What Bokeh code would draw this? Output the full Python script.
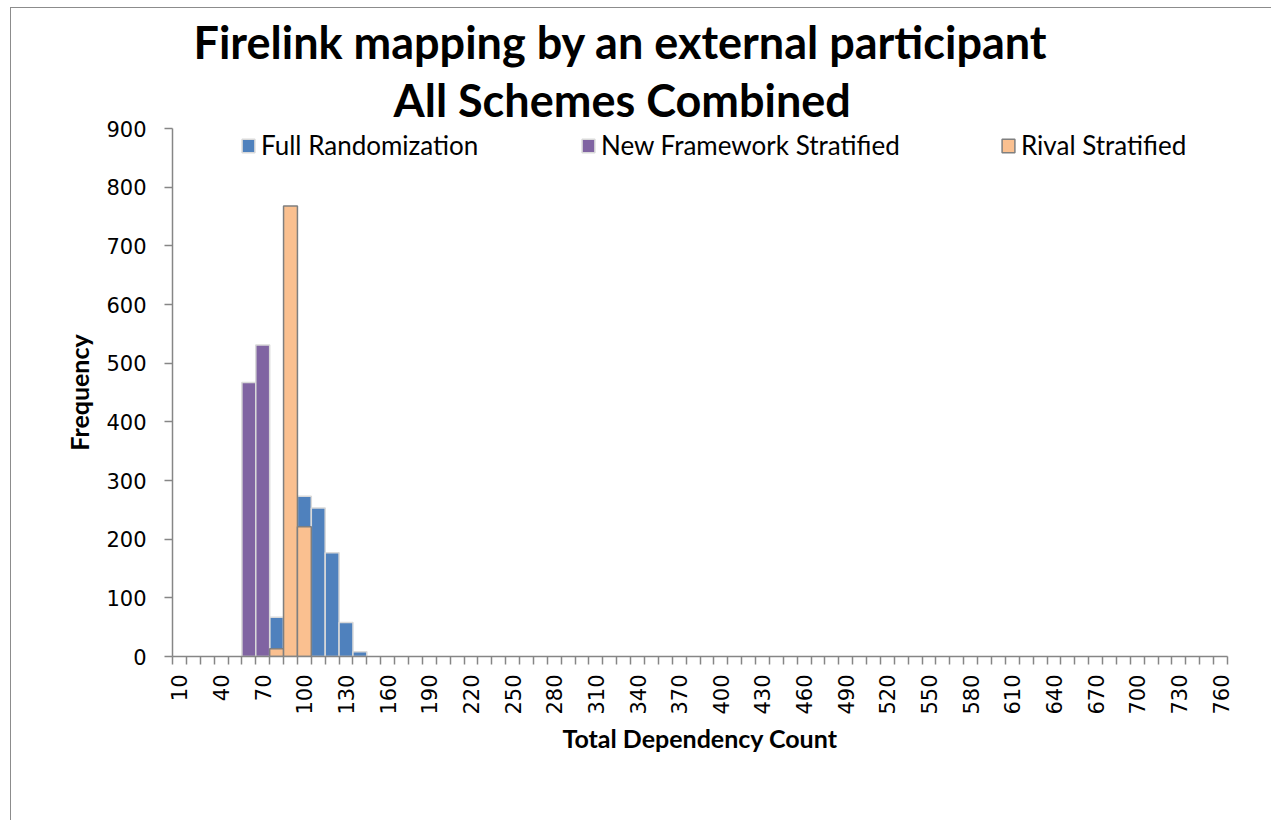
import math
from bokeh.plotting import figure
from bokeh.models import Range1d, FixedTicker, Title, Legend, LegendItem
from bokeh.embed import file_html
from bokeh.resources import INLINE

# ---- data ----
bins = list(range(10, 770, 10))            # histogram bins (Total Dependency Count)
label_bins = bins[::3]                      # bins that carry a label
y_ticks = [0, 100, 200, 300, 400, 500, 600, 700, 800, 900]

full_bins = [80, 90, 100, 110, 120, 130, 140]
full_freq = [67, 164, 273, 253, 177, 58, 8]

newfw_bins = [60, 70]
newfw_freq = [467, 531]

rival_bins = [80, 90, 100]
rival_freq = [13, 768, 221]

series_names = ["Full Randomization", "New Framework Stratified", "Rival Stratified"]

BLUE = "#4F81BD"
PURPLE = "#8064A2"
PEACH = "#FAC090"
AXIS = "#868686"

bin_w = bins[1] - bins[0]

p = figure(
    frame_width=1055, frame_height=528,
    x_range=Range1d(bins[0] - bin_w / 2, bins[-1] + bin_w / 2),
    y_range=Range1d(y_ticks[0], y_ticks[-1]),
    output_backend="svg", toolbar_location=None,
    min_border_left=161, min_border_top=120, min_border_right=44, min_border_bottom=164,
    margin=(7, 0, 0, 10),
    styles={"border-left": "1px solid #8c8c8c", "border-top": "1px solid #8c8c8c"},
    title=None,
)
p.background_fill_color = "white"
p.border_fill_color = "white"
p.outline_line_color = None
p.xgrid.visible = False
p.ygrid.visible = False

r_full = p.vbar(x=full_bins, top=full_freq, width=bin_w, fill_color=BLUE,
                line_color="#d9d9d9", line_width=1.5)
r_new = p.vbar(x=newfw_bins, top=newfw_freq, width=bin_w, fill_color=PURPLE,
               line_color="#d9d9d9", line_width=1.5)
r_rival = p.vbar(x=rival_bins, top=rival_freq, width=bin_w, fill_color=PEACH,
                 line_color="#7f7f7f", line_width=1.5)

# ---- axes ----
xa = p.xaxis[0]
xa.ticker = FixedTicker(ticks=label_bins,
                        minor_ticks=[b - bin_w / 2 for b in bins] + [bins[-1] + bin_w / 2])
xa.major_label_orientation = math.pi / 2
xa.major_tick_out = 0
xa.major_tick_in = 0
xa.minor_tick_out = 8
xa.minor_tick_in = 0
xa.minor_tick_line_color = AXIS
xa.minor_tick_line_width = 1.5
xa.axis_line_color = AXIS
xa.axis_line_width = 1.5
xa.major_label_text_font = "DejaVu Sans"
xa.major_label_text_font_size = "21px"
xa.major_label_text_color = "black"
xa.major_label_standoff = 10
xa.axis_label = "Total Dependency Count"
xa.axis_label_text_font = "Lato"
xa.axis_label_text_font_style = "bold"
xa.axis_label_text_font_size = "25px"
xa.axis_label_text_color = "black"
xa.axis_label_standoff = 5

ya = p.yaxis[0]
ya.ticker = FixedTicker(ticks=y_ticks)
ya.minor_tick_out = 0
ya.minor_tick_in = 0
ya.major_tick_out = 8
ya.major_tick_in = 0
ya.major_tick_line_color = AXIS
ya.major_tick_line_width = 1.5
ya.axis_line_color = AXIS
ya.axis_line_width = 1.5
ya.major_label_text_font = "DejaVu Sans"
ya.major_label_text_font_size = "21px"
ya.major_label_text_color = "black"
ya.major_label_standoff = 18
ya.axis_label = "Frequency"
ya.axis_label_text_font = "Lato"
ya.axis_label_text_font_style = "bold"
ya.axis_label_text_font_size = "25px"
ya.axis_label_text_color = "black"
ya.axis_label_standoff = 9

# ---- titles ----
t2 = Title(text="All Schemes Combined", align="left", offset=221,
           text_font="Lato", text_font_style="bold", text_font_size="45px",
           text_color="black", standoff=4)
t1 = Title(text="Firelink mapping by an external participant", align="left", offset=21,
           text_font="Lato", text_font_style="bold", text_font_size="45px",
           text_color="black", standoff=0)
p.add_layout(t2, "above")
p.add_layout(t1, "above")

# ---- legends ----
for rend, name, xloc in zip([r_full, r_new, r_rival], series_names, [68, 408, 828]):
    lg = Legend(items=[LegendItem(label=name, renderers=[rend])],
                location=(xloc, 495), orientation="horizontal",
                glyph_width=16, glyph_height=17, label_standoff=5,
                padding=0, margin=0, spacing=0,
                background_fill_alpha=0, border_line_alpha=0,
                label_text_font="Lato", label_text_font_size="26px",
                label_text_color="black")
    p.add_layout(lg, "center")

open("out.html", "w").write(file_html(p, INLINE))
